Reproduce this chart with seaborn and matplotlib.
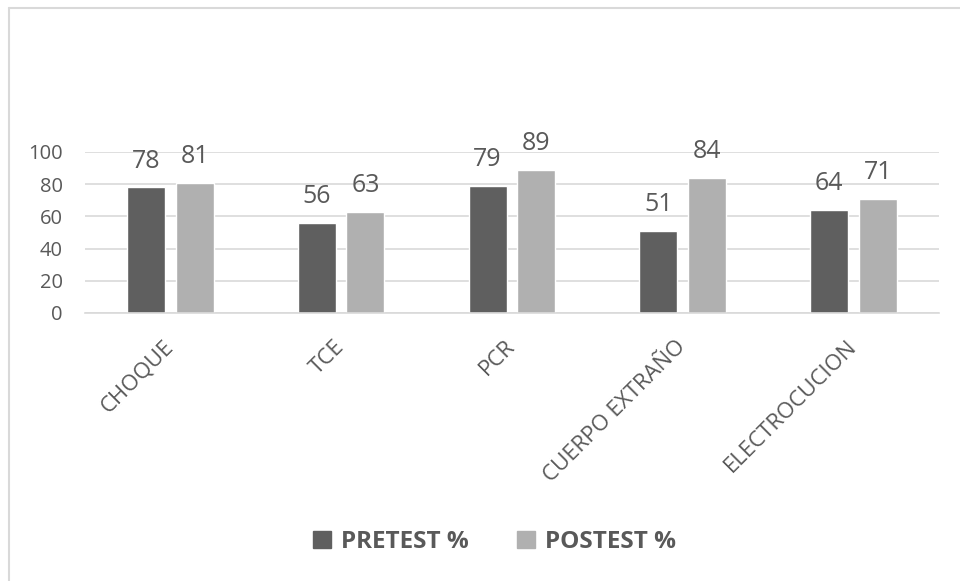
import matplotlib.pyplot as plt
import pandas as pd
import seaborn as sns
from matplotlib.lines import Line2D

#------Data------

CATEGORIES = ["CHOQUE", "TCE", "PCR", "CUERPO EXTRAÑO", "ELECTROCUCION"]
PRETEST = [78, 56, 79, 51, 64]
POSTEST = [81, 63, 89, 84, 71]
SERIES = ["PRETEST %", "POSTEST %"]
Y_TICKS = [0, 20, 40, 60, 80, 100]

COLORS = ["#5f5f5f", "#b0b0b0"]
TEXT_COLOR = "#595959"
GRID_COLOR = "#d9d9d9"

#------Plot------

def make_chart():
    df = pd.DataFrame({
        "categoria": CATEGORIES * 2,
        "serie": [SERIES[0]] * len(CATEGORIES) + [SERIES[1]] * len(CATEGORIES),
        "valor": PRETEST + POSTEST,
    })

    sns.set_style("white")
    plt.rcParams["font.family"] = ["Open Sans", "DejaVu Sans"]

    fig = plt.figure(figsize=(9.6, 5.81), dpi=100)
    ax = fig.add_axes([0.0885, 0.4613, 0.8895, 0.2771])

    sns.barplot(data=df, x="categoria", y="valor", hue="serie",
                palette=COLORS, width=0.57, gap=0.22, saturation=1,
                ax=ax, legend=False)

    # value labels above the bars
    for container in ax.containers:
        ax.bar_label(container, padding=10, fontsize=18, color=TEXT_COLOR)

    ax.set_ylim(0, 100)
    ax.set_yticks(Y_TICKS)
    ax.set_xlim(-0.5, len(CATEGORIES) - 0.5)
    ax.yaxis.grid(True, color=GRID_COLOR, linewidth=1.2)
    ax.set_axisbelow(True)
    for side in ["top", "right", "left"]:
        ax.spines[side].set_visible(False)
    ax.spines["bottom"].set_color(GRID_COLOR)
    ax.spines["bottom"].set_linewidth(1.2)

    ax.set_xlabel("")
    ax.set_ylabel("")
    ax.tick_params(axis="y", length=0, pad=16, labelsize=14.5, labelcolor=TEXT_COLOR)
    ax.tick_params(axis="x", length=0, pad=22, labelsize=16, labelcolor=TEXT_COLOR)
    for lbl in ax.get_xticklabels():
        lbl.set_rotation(45)
        lbl.set_ha("right")
        lbl.set_va("center")
        lbl.set_rotation_mode("anchor")

    # legend at the bottom
    handles = [plt.Rectangle((0, 0), 1, 1, color=c) for c in COLORS]
    leg = fig.legend(handles, SERIES, loc="center", bbox_to_anchor=(0.515, 0.067),
                     ncol=2, frameon=False, handlelength=0.75, handleheight=0.75,
                     handletextpad=0.4, columnspacing=2.0,
                     prop={"weight": "bold", "size": 17.5})
    for t in leg.get_texts():
        t.set_color(TEXT_COLOR)

    # chart border (left and top edges)
    fig.add_artist(Line2D([0.009, 0.009], [0, 0.987], color=GRID_COLOR, linewidth=1.5))
    fig.add_artist(Line2D([0.009, 1.0], [0.987, 0.987], color=GRID_COLOR, linewidth=1.5))

    fig.savefig("out.png", dpi=100)
    plt.close(fig)


if __name__ == "__main__":
    make_chart()
